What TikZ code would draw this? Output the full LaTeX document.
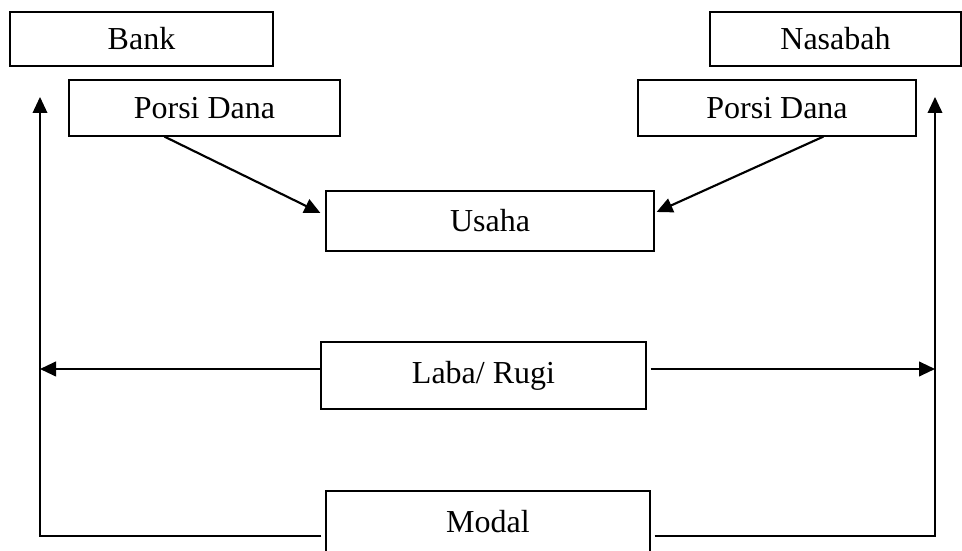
\documentclass[tikz,border=0pt]{standalone}
\usepackage{fontspec}
\setmainfont{Liberation Serif}
\usetikzlibrary{arrows.meta,calc}
\begin{document}
\begin{tikzpicture}[x=0.375pt, y=-0.375pt,
                box/.style={draw, rectangle, line width=0.45pt, minimum height=20.25pt, inner sep=0pt, font=\fontsize{12}{14}\selectfont},
                >={Triangle[length=6pt, width=5.5pt]}]

                \useasboundingbox (0,0) rectangle (962,551);

                \node[box, minimum width=98.6pt] (bank) at (141.5,39) {Bank};
                \node[box, minimum width=94.1pt] (nasabah) at (835.5,39) {Nasabah};
                \node[box, minimum width=101.6pt, minimum height=21pt] (pdl) at (204.5,108) {Porsi Dana};
                \node[box, minimum width=104.25pt, minimum height=21pt] (pdr) at (777,108) {Porsi Dana};
                \node[box, minimum width=123pt, minimum height=22.5pt] (usaha) at (490,221) {Usaha};
                \node[box, minimum width=121.9pt, minimum height=25.1pt] (laba) at (483.5,375.5) {Laba/ Rugi};
                \node[box, minimum width=121.5pt, minimum height=23.25pt] (modal) at (488,522) {Modal};

                \coordinate (lt) at (40,97);
                \coordinate (rt) at (935,97);
                \coordinate (ll) at (40,369);
                \coordinate (rl) at (935,369);
                \coordinate (lb) at (40,536);
                \coordinate (rb) at (935,536);

                \draw[->, line width=0.8pt] ($(pdl.south west)+(96,0)$) -- ($(usaha.west)+(-5,-8)$);
                \draw[->, line width=0.8pt] ($(pdr.south west)+(186,0)$) -- ($(usaha.east)+(2,-9)$);
                \draw[->, line width=0.75pt] (laba.west |- ll) -- (ll);
                \draw[->, line width=0.75pt] ($(laba.east |- rl)+(4,0)$) -- (rl);
                \draw[->, line width=0.55pt] ($(modal.west |- lb)+(-4,0)$) -- (lb) -- (lt);
                \draw[->, line width=0.55pt] ($(modal.east |- rb)+(4,0)$) -- (rb) -- (rt);
            \end{tikzpicture}
\end{document}
